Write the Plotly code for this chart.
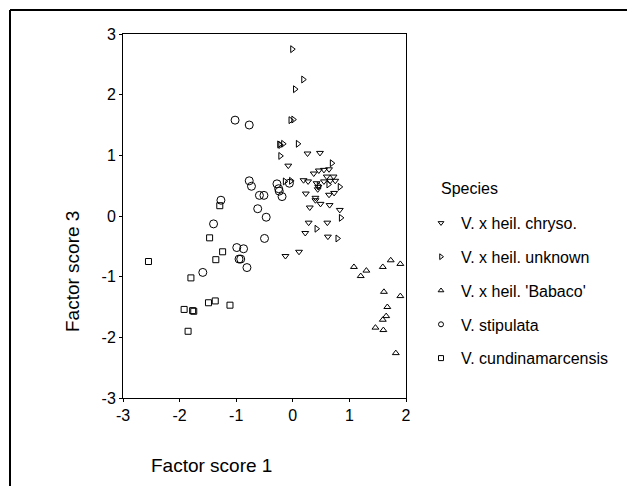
import plotly.graph_objects as go

# ---- data ----
chryso_x = [0.26, 0.48, -0.08, 0.37, 0.46, 0.55, 0.64, 0.19, 0.27, 0.42, 0.60, 0.72,
            0.55, 0.66, 0.75, 0.45, 0.23, 0.64, 0.73, 0.40, 0.40, 0.30, 0.49, 0.65,
            0.83, 0.28, 0.61, 0.22, 0.62, -0.13, 0.11, 0.44]
chryso_y = [1.03, 1.04, 0.83, 0.70, 0.75, 0.76, 0.77, 0.59, 0.57, 0.54, 0.65, 0.65,
            0.57, 0.58, 0.58, 0.48, 0.37, 0.35, 0.38, 0.30, 0.26, 0.14, 0.20, 0.18,
            0.10, -0.11, -0.11, -0.28, -0.34, -0.66, -0.59, 0.44]

unknown_x = [-0.01, 0.185, 0.04, -0.04, 0.01, -0.24, -0.22, -0.17, 0.09, -0.22,
             0.69, 0.63, 0.83, 0.46, -0.14, -0.03, 0.85, 0.42, 0.79]
unknown_y = [2.75, 2.25, 2.09, 1.58, 1.59, 1.18, 1.17, 1.19, 1.19, 0.99,
             0.87, 0.52, 0.48, 0.50, 0.57, 0.58, -0.03, -0.21, -0.37]

babaco_x = [1.08, 1.20, 1.30, 1.59, 1.73, 1.90, 1.61, 1.90, 1.67, 1.65, 1.59, 1.46, 1.60, 1.82]
babaco_y = [-0.84, -0.99, -0.90, -0.84, -0.73, -0.79, -1.25, -1.32, -1.50, -1.65, -1.71, -1.84, -1.88, -2.26]

stipulata_x = [-1.02, -0.77, -0.77, -0.73, -0.59, -0.51, -1.27, -0.62, -0.47, -0.28,
               -0.25, -0.24, -0.19, -0.06, -1.40, -0.50, -0.99, -0.87, -0.95, -0.92,
               -0.81, -1.59]
stipulata_y = [1.58, 1.50, 0.58, 0.49, 0.34, 0.34, 0.26, 0.12, -0.02, 0.53,
               0.45, 0.41, 0.32, 0.54, -0.13, -0.37, -0.52, -0.54, -0.71, -0.71,
               -0.85, -0.93]

cundina_x = [-1.29, -1.47, -1.36, -1.24, -2.55, -1.80, -1.92, -1.77, -1.75, -1.49, -1.37, -1.11, -1.85]
cundina_y = [0.17, -0.36, -0.72, -0.59, -0.75, -1.02, -1.54, -1.56, -1.57, -1.43, -1.40, -1.47, -1.90]

species = ["V. x heil. chryso.", "V. x heil. unknown", "V. x heil. 'Babaco'",
           "V. stipulata", "V. cundinamarcensis"]
x_ticks = [-3, -2, -1, 0, 1, 2]
x_ticklabels = ["-3", "-2", "-1", "0", "1", "2"]
y_ticks = [-3, -2, -1, 0, 1, 2, 3]
y_ticklabels = ["-3", "-2", "-1", "0", "1", "2", "3"]

# ---- geometry (image pixels; page body has an 8px margin) ----
OFF = 8
PL, PR, PT, PB = 123, 406, 34, 398   # plot area in image pixels
PW, PH = PR - PL, PB - PT


def px(xp):
    return (xp - PL) / PW


def py(yp):
    return (PB - yp) / PH


series = [
    (chryso_x, chryso_y, "triangle-down-open", 6),
    (unknown_x, unknown_y, "triangle-right-open", 6),
    (babaco_x, babaco_y, "triangle-up-open", 6),
    (stipulata_x, stipulata_y, "circle-open", 8),
    (cundina_x, cundina_y, "square-open", 6),
]

fig = go.Figure()
for (xs, ys, sym, sz), name in zip(series, species):
    fig.add_trace(go.Scatter(
        x=xs, y=ys, mode="markers", name=name, showlegend=False,
        marker=dict(symbol=sym, size=sz, color="black", line=dict(width=1, color="black")),
    ))
# legend entries (smaller symbols, like the reference)
for i, ((xs, ys, sym, sz), name) in enumerate(zip(series, species)):
    fig.add_trace(go.Scatter(
        x=[None], y=[None], mode="markers", name=name, legendgroup=str(i),
        marker=dict(symbol=sym, size=5, color="black", line=dict(width=1, color="black")),
    ))

axis_common = dict(ticks="outside", ticklen=3, tickcolor="black",
                   showgrid=False, zeroline=False, showline=True, linecolor="black",
                   linewidth=1, mirror=True, tickfont=dict(size=16))

fig.update_layout(
    width=635, height=486,
    margin=dict(l=PL - OFF, r=635 - (PR - OFF), t=PT - OFF, b=486 - (PB - OFF)),
    paper_bgcolor="white", plot_bgcolor="white",
    font=dict(family="Liberation Sans, Arial, sans-serif", size=16, color="black"),
    xaxis=dict(range=[-3, 2], tickvals=x_ticks, ticktext=x_ticklabels, **axis_common),
    yaxis=dict(range=[-3, 3], tickvals=y_ticks, ticktext=y_ticklabels, **axis_common),
    legend=dict(
        x=px(421), y=py(206), xanchor="left", yanchor="top",
        font=dict(size=16), tracegroupgap=10, itemwidth=30,
        bgcolor="rgba(0,0,0,0)",
    ),
    shapes=[
        dict(type="line", xref="paper", yref="paper",
             x0=px(10), x1=px(660), y0=py(10), y1=py(10),
             line=dict(color="black", width=2)),
        dict(type="line", xref="paper", yref="paper",
             x0=px(10), x1=px(10), y0=py(10), y1=py(500),
             line=dict(color="black", width=2)),
    ],
    annotations=[
        dict(text="Species", xref="paper", yref="paper",
             x=px(439), y=py(188), xanchor="left", yanchor="middle",
             showarrow=False, font=dict(size=16)),
        dict(text="Factor score 1", xref="paper", yref="paper",
             x=px(149), y=py(465), xanchor="left", yanchor="middle",
             showarrow=False, font=dict(size=19)),
        dict(text="Factor score 3", xref="paper", yref="paper",
             x=px(72), y=py(272), xanchor="center", yanchor="middle",
             textangle=-90, showarrow=False, font=dict(size=19)),
    ],
)

fig.write_html("out.html")
